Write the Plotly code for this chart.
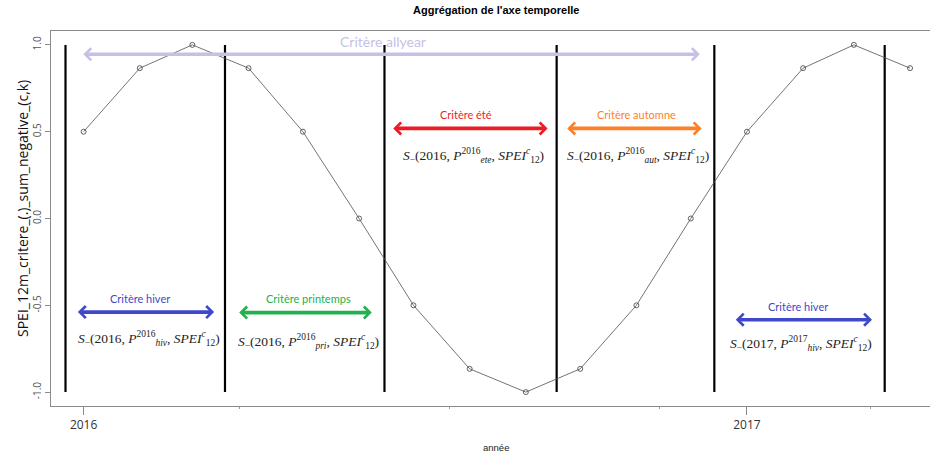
import plotly.graph_objects as go

# ---- data ----
dates = ["2016-01-01", "2016-02-01", "2016-03-01", "2016-04-01", "2016-05-01", "2016-06-01",
         "2016-07-01", "2016-08-01", "2016-09-01", "2016-10-01", "2016-11-01", "2016-12-01",
         "2017-01-01", "2017-02-01", "2017-03-01", "2017-04-01"]
values = [0.5, 0.866, 1.0, 0.866, 0.5, 0.0, -0.5, -0.866, -1.0, -0.866, -0.5, 0.0,
          0.5, 0.866, 1.0, 0.866]

boundary_dates = ["2015-12-22", "2016-03-19", "2016-06-15", "2016-09-18", "2016-12-14", "2017-03-18"]
boundary_low = -1.0
boundary_high = 1.0

crit_labels = ["Critère allyear", "Critère hiver", "Critère printemps", "Critère été",
               "Critère automne", "Critère hiver"]
crit_start = ["2015-12-31", "2015-12-28", "2016-03-26", "2016-06-19", "2016-09-23", "2016-12-25"]
crit_end = ["2016-12-06", "2016-03-13", "2016-06-08", "2016-09-13", "2016-12-07", "2017-03-11"]
crit_arrow_y = [0.946, -0.539, -0.542, 0.519, 0.519, -0.583]
crit_text_x = ["2016-06-14", "2016-02-01", "2016-05-04", "2016-07-30", "2016-11-01", "2017-01-29"]
crit_text_y = [1.017, -0.46, -0.46, 0.60, 0.60, -0.507]

math_labels = [
    "<i>S</i><sub>−</sub>(2016, <i>P</i><sup>2016</sup><sub><i>hiv</i></sub>, <i>SPEI</i><sup><i>c</i></sup><sub>12</sub>)",
    "<i>S</i><sub>−</sub>(2016, <i>P</i><sup>2016</sup><sub><i>pri</i></sub>, <i>SPEI</i><sup><i>c</i></sup><sub>12</sub>)",
    "<i>S</i><sub>−</sub>(2016, <i>P</i><sup>2016</sup><sub><i>ete</i></sub>, <i>SPEI</i><sup><i>c</i></sup><sub>12</sub>)",
    "<i>S</i><sub>−</sub>(2016, <i>P</i><sup>2016</sup><sub><i>aut</i></sub>, <i>SPEI</i><sup><i>c</i></sup><sub>12</sub>)",
    "<i>S</i><sub>−</sub>(2017, <i>P</i><sup>2017</sup><sub><i>hiv</i></sub>, <i>SPEI</i><sup><i>c</i></sup><sub>12</sub>)",
]
math_x = ["2016-02-06", "2016-05-04", "2016-08-03", "2016-11-02", "2017-01-31"]
math_y = [-0.69, -0.71, 0.365, 0.365, -0.72]

y_tickvals = [-1.0, -0.5, 0.0, 0.5, 1.0]
y_ticktext = ["-1.0", "-0.5", "0.0", "0.5", "1.0"]
x_tickvals = ["2016-01-01", "2017-01-01"]
x_ticktext = ["2016", "2017"]
x_minor_ticks = ["2016-03-27", "2016-07-21", "2016-11-14", "2017-03-10"]

title_text = "Aggrégation de l'axe temporelle"
x_title = "année"
y_title = "SPEI_12m_critere_(.)_sum_negative_(c,k)"

# ---- styles ----
crit_colors = ["#C8BFE7", "#3F48CC", "#22B14C", "#ED1C24", "#FF7F27", "#3F48CC"]
crit_sizes = [14, 11, 11, 11, 11, 11]

M_L, M_T, M_B, M_R = 51, 31, 50, 0
PLOT_W = 930 - M_L - M_R
PLOT_H = 456 - M_T - M_B

fig = go.Figure()

# vertical season boundaries
bx, by = [], []
for d in boundary_dates:
    bx += [d, d, None]
    by += [boundary_low, boundary_high, None]
fig.add_trace(go.Scatter(x=bx, y=by, mode="lines", line=dict(color="black", width=2.2),
                         hoverinfo="skip", showlegend=False))

# series
fig.add_trace(go.Scatter(x=dates, y=values, mode="lines+markers",
                         line=dict(color="#505050", width=0.8),
                         marker=dict(symbol="circle-open", size=5, color="#505050",
                                     line=dict(width=0.9)),
                         showlegend=False))

annotations = []
for lab, s, e, ay, tx, ty, col, fs in zip(crit_labels, crit_start, crit_end, crit_arrow_y,
                                          crit_text_x, crit_text_y, crit_colors, crit_sizes):
    annotations.append(dict(x=e, y=ay, ax=s, ay=ay, xref="x", yref="y", axref="x", ayref="y",
                            text="", showarrow=True, arrowhead=4, startarrowhead=4,
                            arrowside="end+start", arrowwidth=3.6, arrowsize=0.65,
                            startarrowsize=0.65, arrowcolor=col, standoff=0, startstandoff=0))
    annotations.append(dict(x=tx, y=ty, xref="x", yref="y", text=lab, showarrow=False,
                            font=dict(family="Lato, Open Sans, sans-serif", size=fs, color=col)))

for lab, mx, my in zip(math_labels, math_x, math_y):
    annotations.append(dict(x=mx, y=my, xref="x", yref="y", text=lab, showarrow=False,
                            font=dict(family="Liberation Serif, DejaVu Serif, serif", size=13.5,
                                      color="#222222")))

# title & axis labels (plot area spans screen rows 31..406, columns 51..930)
annotations.append(dict(x=0.5065, y=(406 - 10) / PLOT_H, xref="paper", yref="paper",
                        text="<b>" + title_text + "</b>",
                        showarrow=False, xanchor="center", yanchor="middle",
                        font=dict(family="Liberation Sans, Arial, sans-serif", size=11, color="black")))
annotations.append(dict(x=0.5065, y=(406 - 447) / PLOT_H, xref="paper", yref="paper", text=x_title,
                        showarrow=False, xanchor="center", yanchor="middle",
                        font=dict(family="Liberation Sans, Arial, sans-serif", size=9.5, color="#222222")))
annotations.append(dict(x=(22 - M_L) / PLOT_W, y=(406 - 209) / PLOT_H, xref="paper", yref="paper",
                        text=y_title, textangle=-90, showarrow=False,
                        xanchor="center", yanchor="middle",
                        font=dict(family="Open Sans, sans-serif", size=14, color="#111111")))

fig.update_layout(
    width=930, height=456,
    margin=dict(l=M_L, r=M_R, t=M_T, b=M_B),
    paper_bgcolor="white", plot_bgcolor="white",
    annotations=annotations,
    showlegend=False,
)

fig.update_xaxes(
    range=["2015-12-14", "2017-04-12"],
    automargin=False,
    showgrid=False, zeroline=False,
    showline=True, linecolor="#8a8a8a", linewidth=1, mirror=True,
    tickmode="array", tickvals=x_tickvals, ticktext=x_ticktext,
    ticks="outside", ticklen=8, tickcolor="#8a8a8a", tickwidth=1,
    tickfont=dict(family="Open Sans, sans-serif", size=12, color="#333333"),
    minor=dict(tickmode="array", tickvals=x_minor_ticks, ticks="outside", ticklen=2,
               tickcolor="#999999", showgrid=False),
)
fig.update_yaxes(
    range=[-1.08, 1.08],
    automargin=False,
    showgrid=False, zeroline=False,
    showline=True, linecolor="#8a8a8a", linewidth=1,
    tickmode="array", tickvals=y_tickvals, ticktext=y_ticktext, tickangle=-90,
    ticks="outside", ticklen=5, tickcolor="#8a8a8a",
    tickfont=dict(family="Open Sans, sans-serif", size=10, color="#555555"),
)

# remove the browser's default 8px body margin so the figure sits at the window's corner
fig.write_html("out.html", config={"displayModeBar": False},
               post_script="document.body.style.margin='0';")
